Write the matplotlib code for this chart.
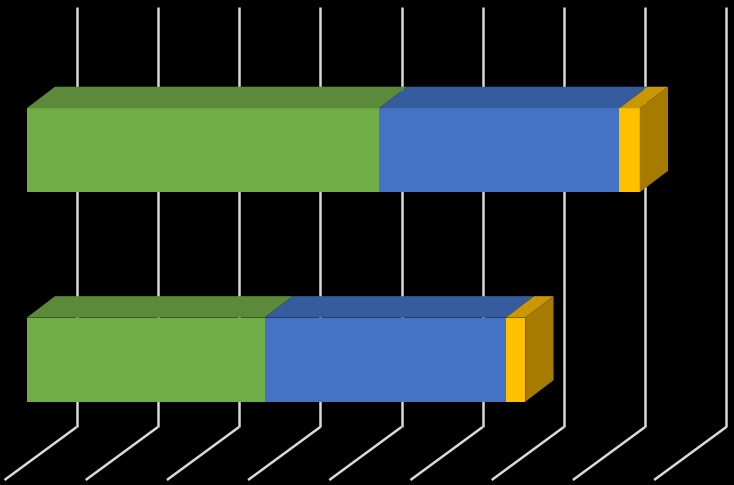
import matplotlib
matplotlib.use("Agg")
import matplotlib.pyplot as plt
from matplotlib.patches import Polygon

# Chart data (value units, one gridline per unit)
categories = ["B", "A"]          # bottom to top
green_vals = [2.93, 4.34]
blue_vals = [2.97, 2.96]
yellow_vals = [0.24, 0.25]
grid_ticks = list(range(0, 9))

series = [
    (green_vals, "#70AD47", "#5B8B3A", "#4F7A32"),
    (blue_vals, "#4472C4", "#375C9E", "#2F5087"),
    (yellow_vals, "#FFC000", "#C99700", "#A67C00"),
]

# Projection of the 3D depth into the 2D axes
x0 = 26.7                       # pixel of value 0 at bar front
yc = 359.7                      # pixel centre of bottom bar
px = 81.2                       # pixels per value unit
py = 209.4                      # pixels per category step
bar_h = 84 / py
dx, dy = 28.3 / px, 21.5 / py   # bar depth
back_dx = (76.7 - x0) / px      # back wall relative to bar front
front_dx = (4.5 - x0) / px      # front edge of floor
floor_back = (yc - 427) / py
floor_front = (yc - 480) / py
wall_top = (yc - 7) / py

fig = plt.figure(figsize=(7.34, 4.851), dpi=100, facecolor="black")
ax = fig.add_axes([0, 0, 1, 1])
ax.set_facecolor("black")
ax.set_xlim(-x0 / px, (734 - x0) / px)
ax.set_ylim((yc - 485) / py, yc / py)
ax.axis("off")

# gridlines: back wall verticals + floor diagonals
for t in grid_ticks:
    xb = t + back_dx
    ax.plot([xb, xb], [floor_back, wall_top], color="#D9D9D9", lw=1.8,
            solid_capstyle="butt", zorder=1)
    ax.plot([xb, t + front_dx], [floor_back, floor_front], color="#D9D9D9",
            lw=1.8, solid_capstyle="butt", zorder=1)

# stacked 3D bars
for i, cat in enumerate(categories):
    left = 0
    y0 = i - bar_h / 2
    y1 = i + bar_h / 2
    n = len(series)
    for k, (vals, front, top, side) in enumerate(series):
        w = vals[i]
        ax.barh(i, w, left=left, height=bar_h, color=front, zorder=3)
        ax.add_patch(Polygon([(left, y1), (left + w, y1), (left + w + dx, y1 + dy),
                              (left + dx, y1 + dy)], closed=True,
                             facecolor=top, edgecolor="none", zorder=3))
        if k == n - 1:
            r = left + w
            ax.add_patch(Polygon([(r, y0), (r, y1), (r + dx, y1 + dy), (r + dx, y0 + dy)],
                                 closed=True, facecolor=side, edgecolor="none", zorder=3))
        left += w

fig.savefig("out.png", dpi=100, facecolor="black")
